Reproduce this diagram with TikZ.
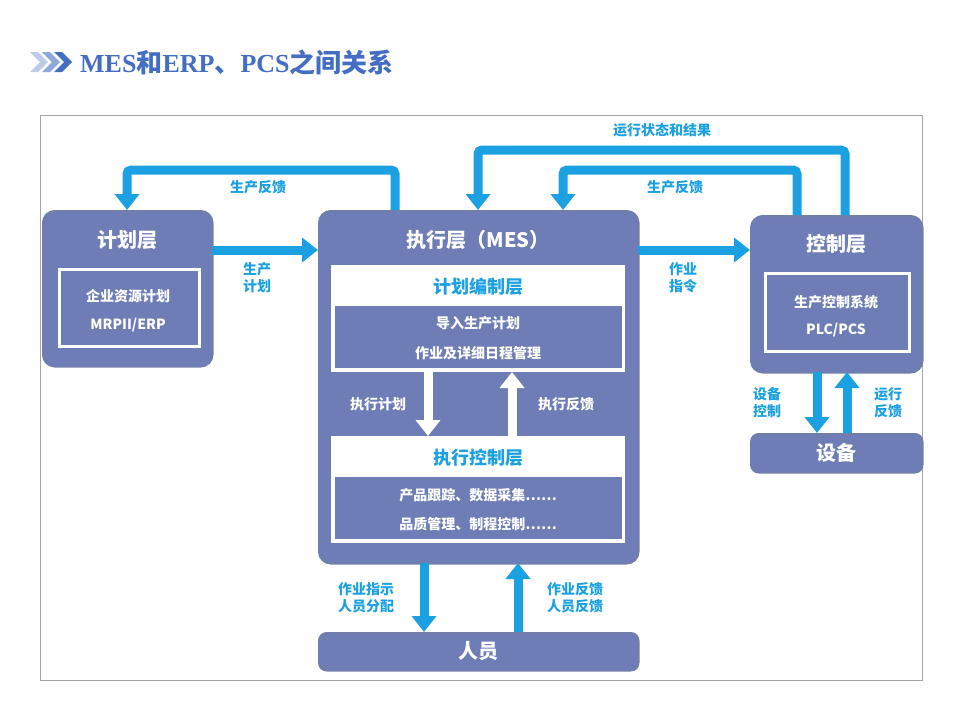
\documentclass[tikz,border=0pt]{standalone}
\usepackage{fontspec}
\setmainfont{Noto Sans CJK SC}
\newfontfamily\titleser{Liberation Serif}
\usetikzlibrary{arrows.meta,calc}
\definecolor{pur}{RGB}{110,125,181}
\definecolor{cy}{RGB}{27,161,226}
\definecolor{tb}{RGB}{68,110,195}
\begin{document}
\begin{tikzpicture}[x=1pt,y=-1pt,
  box/.style={fill=pur,draw=pur!80!gray,line width=1.5pt,rounded corners=12pt,anchor=north west,inner sep=0},
  wbox/.style={fill=white,draw=none,anchor=north west,inner sep=0},
  ibox/.style={fill=pur,draw=white,line width=3pt,anchor=north west,inner sep=0},
  pbox/.style={fill=pur,draw=none,anchor=north west,inner sep=0},
  ttl/.style={text=white,font=\bfseries\fontsize{20}{24}\selectfont},
  wt/.style={text=white,font=\bfseries\fontsize{14}{17}\selectfont},
  ct/.style={text=cy,font=\bfseries\fontsize{14}{17}\selectfont,align=center},
  arr/.style={draw=cy,line width=9pt,-{Triangle[width=24pt,length=16pt]}},
  warr/.style={draw=white,line width=9pt,-{Triangle[width=24pt,length=16pt]}},
  line/.style={draw=cy,line width=9pt,rounded corners=4pt}]
\useasboundingbox (0,0) rectangle (960,720);
\fill[white] (0,0) rectangle (960,720);
% title
\foreach \dx/\op in {0/0.35,12/0.6,24/1}{
  \fill[tb,opacity=\op] (30+\dx,52) -- (38+\dx,52) -- (48+\dx,62) -- (38+\dx,72) -- (30+\dx,72) -- (40+\dx,62) -- cycle;}
\node[anchor=west,text=tb,inner sep=0] (title) at (80,62) {\titleser\bfseries\fontsize{26}{30}\selectfont MES{\rmfamily\bfseries 和}ERP{\rmfamily\bfseries 、}PCS{\rmfamily\bfseries 之间关系}};
% frame
\draw[gray!70,line width=0.8pt] (40,115) rectangle (922,680);
% plan layer
\node[box,minimum width=170,minimum height=156] (plan) at (42,210) {};
\node[ttl] (plant) at (127,240) {计划层};
\node[ibox,minimum width=140,minimum height=77] (erp) at (58,268) {};
\node[wt] (erp1) at (128,296) {企业资源计划};
\node[wt] (erp2) at (128,325) {MRPII/ERP};
% MES
\node[box,minimum width=320,minimum height=353] (mes) at (318,210) {};
\node[ttl] (mest) at (478,240) {执行层（MES）};
\node[wbox,minimum width=294,minimum height=107] (pc) at (331,265) {};
\node[text=cy,font=\bfseries\fontsize{18}{22}\selectfont] (pct) at (478,287) {计划编制层};
\node[pbox,minimum width=287,minimum height=62] (pci) at (335,306) {};
\node[wt] (pc1) at (478,323) {导入生产计划};
\node[wt] (pc2) at (478,353) {作业及详细日程管理};
\node[wbox,minimum width=294,minimum height=107] (ec) at (331,436) {};
\node[text=cy,font=\bfseries\fontsize{18}{22}\selectfont] (ect) at (478,458) {执行控制层};
\node[pbox,minimum width=287,minimum height=62] (eci) at (335,477) {};
\node[wt] (ec1) at (478,495) {产品跟踪、数据采集……};
\node[wt] (ec2) at (478,524) {品质管理、制程控制……};
\draw[warr] (428,372) -- (428,436);
\draw[warr] (512,436) -- (512,372);
\node[wt] (l1) at (378,404) {执行计划};
\node[wt] (l2) at (566,404) {执行反馈};
% control
\node[box,minimum width=172,minimum height=157] (ctl) at (750,215) {};
\node[ttl] (ctlt) at (836,244) {控制层};
\node[ibox,minimum width=144,minimum height=78] (pcs) at (764,272) {};
\node[wt] (pcs1) at (836,302) {生产控制系统};
\node[wt] (pcs2) at (836,330) {PLC/PCS};
\node[box,rounded corners=8pt,minimum width=172,minimum height=39] (dev) at (750,433) {};
\node[ttl] (devt) at (836,453) {设备};
\node[box,rounded corners=8pt,minimum width=320,minimum height=38] (per) at (318,632) {};
\node[ttl] (pert) at (478,651) {人员};
% connectors
\draw[line,arr] (395,210) |- (127,170) -- (127,210);
\node[ct] (c1) at (258,187) {生产反馈};
\draw[arr] (212,250) -- (318,250);
\node[ct] (c2) at (257,278) {生产\\计划};
\draw[line,arr] (845,215) |- (478,150) -- (478,210);
\node[ct] (c3) at (662,130) {运行状态和结果};
\draw[line,arr] (797,215) |- (563,170) -- (563,210);
\node[ct] (c4) at (675,187) {生产反馈};
\draw[arr] (638,250) -- (750,250);
\node[ct] (c5) at (683,278) {作业\\指令};
\draw[arr] (817,372) -- (817,433);
\node[ct] (c6) at (767,403) {设备\\控制};
\draw[arr] (847,433) -- (847,372);
\node[ct] (c7) at (888,403) {运行\\反馈};
\draw[arr] (424,563) -- (424,632);
\node[ct] (c8) at (366,598) {作业指示\\人员分配};
\draw[arr] (518,632) -- (518,563);
\node[ct] (c9) at (575,598) {作业反馈\\人员反馈};
\end{tikzpicture}
\end{document}
